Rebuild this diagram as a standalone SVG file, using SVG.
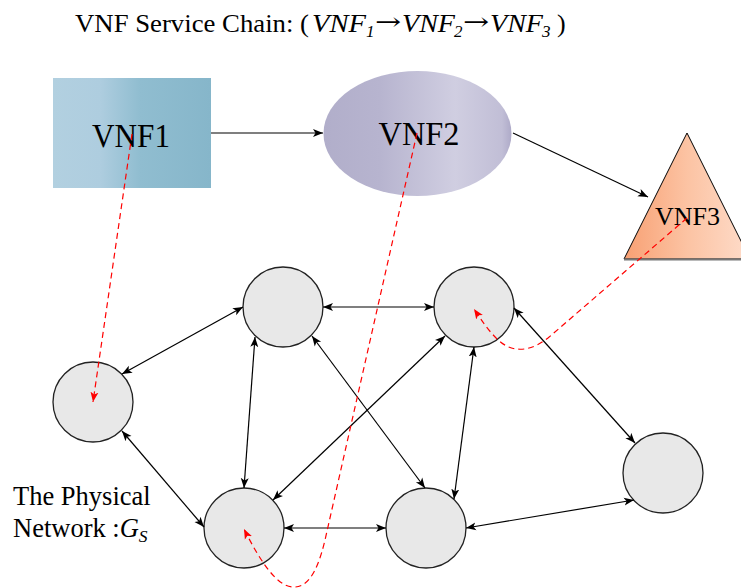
<svg xmlns="http://www.w3.org/2000/svg" width="741" height="588" viewBox="0 0 741 588">
<defs>
<linearGradient id="g1" x1="0" y1="0" x2="1" y2="0">
<stop offset="0" stop-color="#b2d0e0"/>
<stop offset="0.3" stop-color="#aecddf"/>
<stop offset="0.55" stop-color="#90bdd0"/>
<stop offset="1" stop-color="#86b6ca"/>
</linearGradient>
<linearGradient id="g2" x1="0" y1="0" x2="1" y2="0">
<stop offset="0" stop-color="#b1aeca"/>
<stop offset="0.3" stop-color="#b7b4cf"/>
<stop offset="0.7" stop-color="#d0cee1"/>
<stop offset="0.95" stop-color="#c1bed6"/>
<stop offset="1" stop-color="#aeaac8"/>
</linearGradient>
<linearGradient id="g3" x1="0" y1="0" x2="1" y2="0">
<stop offset="0" stop-color="#f8a073"/>
<stop offset="0.5" stop-color="#fcc3a3"/>
<stop offset="1" stop-color="#fedcca"/>
</linearGradient>
<marker id="ah" viewBox="0 0 10 10" refX="10" refY="5" markerWidth="10" markerHeight="10" markerUnits="userSpaceOnUse" orient="auto-start-reverse">
<path d="M0,1 L10,5 L0,9 L2.5,5 Z" fill="#000"/>
</marker>
<marker id="rh" viewBox="0 0 10 10" refX="10" refY="5" markerWidth="10" markerHeight="10" markerUnits="userSpaceOnUse" orient="auto">
<path d="M0,1 L10,5 L0,9 L2.5,5 Z" fill="#ff0000"/>
</marker>
</defs>
<style>
.t{font-family:"Liberation Serif","Times New Roman",serif;fill:#000}
.i{font-style:italic}
.arr{font-family:"DejaVu Serif","DejaVu Sans",serif;font-size:24px;fill:#000}
.node{fill:#e8e8e8;stroke:#222;stroke-width:1.3}
.e{stroke:#000;stroke-width:1.2;fill:none;marker-start:url(#ah);marker-end:url(#ah)}
.a{stroke:#000;stroke-width:1.2;fill:none;marker-end:url(#ah)}
.r{stroke:#ff0000;stroke-width:1.2;fill:none;stroke-dasharray:6 4;marker-end:url(#rh)}
</style>
<rect width="741" height="588" fill="#fff"/>
<g id="title" class="t" font-size="26">
<text x="75" y="32" textLength="234" lengthAdjust="spacingAndGlyphs">VNF Service Chain: (</text>
<text class="i" x="312" y="32" textLength="54" lengthAdjust="spacingAndGlyphs">VNF</text>
<text class="i" x="366" y="37" font-size="17">1</text>
<text class="arr" transform="translate(375,30) scale(1.3,1)">→</text>
<text class="i" x="402" y="32" textLength="53" lengthAdjust="spacingAndGlyphs">VNF</text>
<text class="i" x="454" y="37" font-size="17">2</text>
<text class="arr" transform="translate(463,30) scale(1.3,1)">→</text>
<text class="i" x="490" y="32" textLength="53" lengthAdjust="spacingAndGlyphs">VNF</text>
<text class="i" x="542" y="37" font-size="17">3</text>
<text x="557" y="32">)</text>
</g>
<g id="vnf1">
<rect x="53" y="78" width="158" height="110" fill="url(#g1)"/>
<text class="t" x="131" y="146.5" font-size="34" text-anchor="middle" textLength="78" lengthAdjust="spacingAndGlyphs">VNF1</text>
</g>
<g id="vnf2">
<ellipse cx="417.5" cy="133.5" rx="94" ry="62.5" fill="url(#g2)"/>
<text class="t" x="419" y="145" font-size="34" text-anchor="middle" textLength="81" lengthAdjust="spacingAndGlyphs">VNF2</text>
</g>
<g id="vnf3">
<polygon points="687,133 624,259 750,259" fill="url(#g3)" stroke="#000" stroke-width="1"/>
<line x1="624" y1="259.5" x2="741" y2="259.5" stroke="#777" stroke-width="2"/>
<text class="t" x="687.5" y="225" font-size="26" text-anchor="middle">VNF3</text>
</g>
<g id="n1"><circle class="node" cx="93" cy="402" r="40"/></g>
<g id="n2"><circle class="node" cx="283" cy="307" r="40"/></g>
<g id="n3"><circle class="node" cx="474" cy="307" r="40"/></g>
<g id="n4"><circle class="node" cx="244" cy="528" r="40"/></g>
<g id="n5"><circle class="node" cx="426" cy="528" r="40"/></g>
<g id="n6"><circle class="node" cx="663" cy="473" r="40"/></g>
<g id="label">
<text class="t" x="13" y="505" font-size="26.5">The Physical</text>
<text class="t" x="13" y="537" font-size="26.5">Network :<tspan font-style="italic">G</tspan><tspan font-style="italic" font-size="17.5" dy="5">S</tspan></text>
</g>
<g id="connectors">
<line class="a" x1="211" y1="133" x2="323" y2="133"/>
<line class="a" x1="513" y1="133" x2="648" y2="197"/>
<line class="e" x1="122" y1="374" x2="243" y2="307"/>
<line class="e" x1="323" y1="307" x2="434" y2="307"/>
<line class="e" x1="122" y1="431" x2="204" y2="527"/>
<line class="e" x1="255" y1="337" x2="244" y2="488"/>
<line class="e" x1="312" y1="336" x2="425" y2="488"/>
<line class="e" x1="445" y1="336" x2="273" y2="500"/>
<line class="e" x1="474" y1="347" x2="454" y2="499"/>
<line class="e" x1="514" y1="308" x2="635" y2="443"/>
<line class="e" x1="284" y1="528" x2="386" y2="528"/>
<line class="e" x1="466" y1="528" x2="634" y2="500"/>
<path class="r" d="M132,134 L93,402"/>
<path class="r" d="M417,133 L325,540 C316,578 305,588 292,587 C278,586 262,565 244,529"/>
<path class="r" d="M687,218 L548,338 C535,348 525,350 516,349 C500,347 488,330 474,309"/>
</g>
</svg>
